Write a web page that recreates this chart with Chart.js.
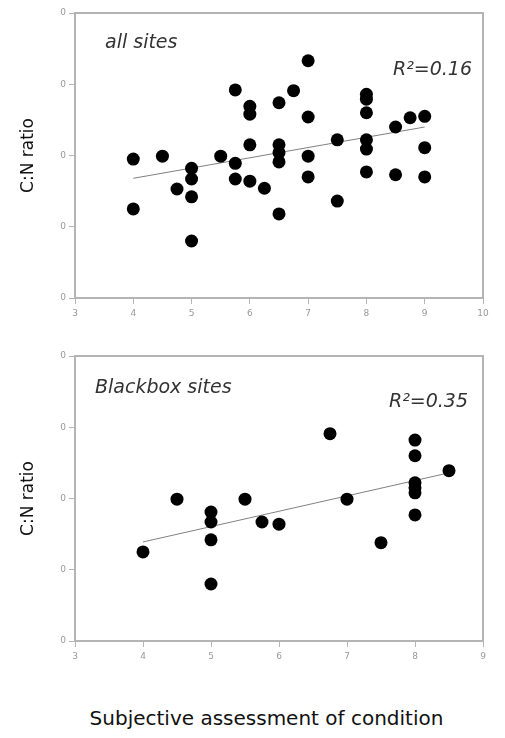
<!DOCTYPE html>
<html>
<head>
<meta charset="utf-8">
<script src="https://cdn.jsdelivr.net/npm/chart.js@4"></script>
<style>
  body { margin: 0; background: #fff; width: 505px; height: 738px; position: relative; overflow: hidden; font-family: "DejaVu Sans", sans-serif; }
  #top { position: absolute; left: 0; top: 0; }
  #bottom { position: absolute; left: 0; top: 330px; }
  #xtitle { position: absolute; left: 14px; width: 505px; top: 706px; text-align: center; font-size: 20px; color: #111; }
</style>
</head>
<body>
<canvas id="top" width="505" height="330"></canvas>
<canvas id="bottom" width="505" height="340"></canvas>
<div id="xtitle">Subjective assessment of condition</div>
<script>
// all sites
const allX = [4, 4, 4.5, 4.75, 5, 5, 5, 5, 5.5, 5.75, 5.75, 5.75, 6, 6, 6, 6, 6.25, 6.5, 6.5, 6.5, 6.5, 6.5, 6.75, 7, 7, 7, 7, 7.5, 7.5, 8, 8, 8, 8, 8, 8, 8.5, 8.5, 8.75, 9, 9, 9];
const allY = [19.5, 12.5, 19.9, 15.3, 18.2, 16.7, 14.2, 8.0, 19.9, 29.2, 18.9, 16.7, 26.9, 25.8, 21.5, 16.4, 15.4, 27.4, 21.5, 20.4, 19.1, 11.8, 29.1, 33.3, 25.4, 19.9, 17.0, 22.2, 13.6, 28.6, 27.9, 26.0, 22.2, 20.9, 17.7, 24.0, 17.3, 25.3, 25.5, 21.1, 17.0];
const allFitX = [4, 9];
const allFitY = [16.8, 24.0];

// blackbox sites
const bbX = [4, 4.5, 5, 5, 5, 5, 5.5, 5.75, 6, 6.75, 7, 7.5, 8, 8, 8, 8, 8, 8, 8.5];
const bbY = [12.5, 19.9, 18.1, 16.7, 14.2, 8.0, 19.9, 16.7, 16.4, 29.1, 19.9, 13.8, 28.2, 26.0, 22.2, 21.5, 20.8, 17.7, 23.9];
const bbFitX = [4, 8.5];
const bbFitY = [13.9, 23.6];

const yTicks = [0, 10, 20, 30, 40];
const yTickLabels = ["0", "0", "0", "0", "0"];

const axisGrey = "#b4b4b4";

function pts(xs, ys) {
  return xs.map((x, i) => ({ x: x, y: ys[i] }));
}

const frame = {
  id: "frame",
  beforeDatasetsDraw(chart) {
    const a = chart.chartArea;
    const ctx = chart.ctx;
    ctx.save();
    ctx.strokeStyle = axisGrey;
    ctx.lineWidth = 2;
    ctx.strokeRect(a.left, a.top, a.right - a.left, a.bottom - a.top);
    ctx.restore();
  },
  afterDatasetsDraw(chart, args, opts) {
    const a = chart.chartArea;
    const ctx = chart.ctx;
    ctx.save();
    ctx.fillStyle = "#333";
    ctx.font = 'oblique 19px "DejaVu Sans"';
    ctx.textAlign = "left";
    ctx.fillText(opts.name, a.left + opts.nameX, a.top + opts.nameY);
    ctx.textAlign = "right";
    ctx.fillText(opts.r2, a.right - opts.r2X, a.top + opts.r2Y);
    ctx.restore();
  }
};

function makeChart(id, xs, ys, fx, fy, xMax, padTop, xHeight, note) {
  return new Chart(document.getElementById(id), {
    type: "scatter",
    data: {
      datasets: [
        {
          data: pts(xs, ys),
          backgroundColor: "#000",
          borderWidth: 0,
          pointRadius: 6.5,
          order: 1
        },
        {
          data: pts(fx, fy),
          showLine: true,
          borderColor: "#808080",
          borderWidth: 1,
          pointRadius: 0,
          order: 2
        }
      ]
    },
    options: {
      responsive: false,
      animation: false,
      layout: { padding: { left: 0, top: padTop, right: 22, bottom: 0 } },
      plugins: {
        legend: { display: false },
        tooltip: { enabled: false },
        frame: note
      },
      scales: {
        x: {
          min: 3,
          max: xMax,
          border: { color: axisGrey, width: 2 },
          grid: { drawOnChartArea: false, tickLength: 6, color: axisGrey },
          ticks: { stepSize: 1, color: "#999", font: { size: 9, family: "DejaVu Sans" }, padding: 4 },
          afterFit(s) { s.height = xHeight; }
        },
        y: {
          min: 0,
          max: 40,
          afterBuildTicks(s) { s.ticks = yTicks.map(v => ({ value: v })); },
          border: { color: axisGrey, width: 2 },
          grid: { drawOnChartArea: false, tickLength: 6, color: axisGrey },
          ticks: {
            color: "#999",
            font: { size: 9, family: "DejaVu Sans" },
            padding: 3,
            callback: (v) => yTickLabels[yTicks.indexOf(v)]
          },
          title: {
            display: true,
            text: "C:N ratio",
            color: "#111",
            font: { size: 17, family: "DejaVu Sans" },
            padding: { top: 18, bottom: 0 }
          },
          afterFit(s) { s.width = 75; }
        }
      }
    },
    plugins: [frame]
  });
}

makeChart("top", allX, allY, allFitX, allFitY, 10, 13, 32,
  { name: "all sites", nameX: 30, nameY: 35, r2: "R²=0.16", r2X: 11, r2Y: 62 });
makeChart("bottom", bbX, bbY, bbFitX, bbFitY, 9, 26, 29,
  { name: "Blackbox sites", nameX: 20, nameY: 37, r2: "R²=0.35", r2X: 15, r2Y: 51 });
</script>
</body>
</html>
